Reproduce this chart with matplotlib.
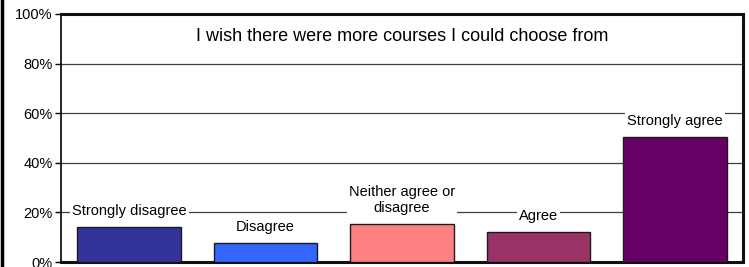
import matplotlib
matplotlib.use("Agg")
import matplotlib.pyplot as plt
from matplotlib.ticker import FuncFormatter
from matplotlib.lines import Line2D

categories = ["Strongly disagree", "Disagree", "Neither agree or\ndisagree", "Agree", "Strongly agree"]
values = [14.1, 7.5, 15.4, 12.1, 50.5]
colors = ["#333399", "#3366FF", "#FF8080", "#993366", "#660066"]
title = "I wish there were more courses I could choose from"
yticks = [0, 20, 40, 60, 80, 100]

plt.rcParams['font.family'] = ['Liberation Sans', 'DejaVu Sans']

fig = plt.figure(figsize=(7.49, 2.67), dpi=100)
ax = fig.add_axes([61/749, 5/267, (743-61)/749, (262-14)/267])

x = list(range(len(categories)))
ax.bar(x, values, width=0.76, color=colors, edgecolor="#1a1a1a", linewidth=1.0, zorder=3)
ax.set_xlim(-0.5, len(categories) - 0.5)
ax.set_ylim(0, 100)
ax.set_yticks(yticks)
ax.yaxis.set_major_formatter(FuncFormatter(lambda v, p: f"{int(v)}%"))
ax.tick_params(axis='y', direction='out', length=4, width=1, labelsize=10.5, pad=2, color='black')
ax.set_xticks([])
ax.grid(axis='y', color='#404040', linewidth=0.9, zorder=0)

for s in ['top', 'right', 'bottom']:
    ax.spines[s].set_linewidth(2.2)
    ax.spines[s].set_color('#111111')
ax.spines['left'].set_linewidth(1.2)
ax.spines['left'].set_color('black')

for xi, v, c in zip(x, values, categories):
    ax.annotate(c, (xi, v), xytext=(0, 6.5), textcoords='offset points',
                ha='center', va='bottom', fontsize=10.5, linespacing=1.15,
                bbox=dict(facecolor='white', edgecolor='none', pad=1.5), zorder=4)

ax.text(0.5, (262-37)/248, title, transform=ax.transAxes, ha='center', va='center', fontsize=13, zorder=4)

fig.add_artist(Line2D([2/749, 2/749], [0, 1], transform=fig.transFigure, color='black', linewidth=2.5))

fig.savefig("out.png", dpi=100)
